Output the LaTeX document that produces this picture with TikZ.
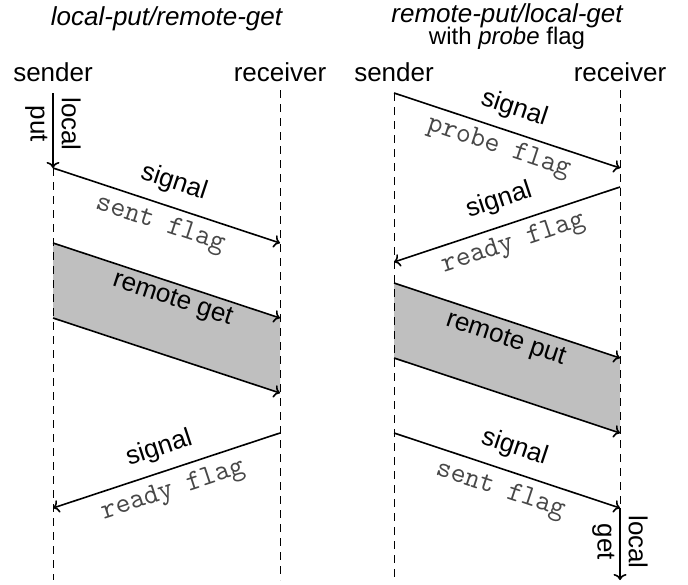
\documentclass[tikz,border=0pt]{standalone}
\usepackage{fontspec}
\setmainfont{Liberation Sans}
\setsansfont{Liberation Sans}
\usetikzlibrary{calc,arrows.meta}

\tikzset{
  lifeline/.style={dash pattern=on 4pt off 3pt, line width=0.5pt},
  msg/.style={line width=0.8pt, -{To[length=3pt,width=6.5pt]}},
  party/.style={font=\fontsize{13}{15.6}\selectfont, inner sep=0pt, anchor=base},
  heading/.style={font=\fontsize{13}{15.6}\selectfont\itshape, inner sep=0pt, anchor=base},
  subheading/.style={font=\fontsize{12}{14.4}\selectfont, inner sep=0pt, anchor=base},
  sigtext/.style={font=\fontsize{13}{15.6}\selectfont, sloped, inner sep=0pt},
  flagtext/.style={font=\fontsize{14.5}{17}\selectfont\ttfamily, text=black!72, sloped, inner sep=0pt},
  sidetext/.style={font=\fontsize{13}{15.6}\selectfont, rotate=-90, align=center, inner sep=0pt},
  block/.style={fill=black!25, draw=none},
}

\begin{document}
\begin{tikzpicture}[x=0.5pt, y=-0.5pt]
\useasboundingbox (0,0) rectangle (688,584);

% ---------- left: local-put / remote-get ----------
\node[heading] (ltitle) at (166.5,25) {local-put/remote-get};
\node[party] (lsend) at (53,81) {sender};
\node[party] (lrecv) at (280,81) {receiver};

\coordinate (LS0) at (53,93);
\coordinate (LS1) at (53,168);
\coordinate (LS2) at (53,243);
\coordinate (LS3) at (53,318);
\coordinate (LS4) at (53,508);
\coordinate (LSe) at (53,580);
\coordinate (LR0) at (280,90);
\coordinate (LR1) at (280,243);
\coordinate (LR2) at (280,318);
\coordinate (LR3) at (280,393);
\coordinate (LR4) at (280,433);
\coordinate (LRe) at (280,580);

% remote get block
\fill[block] (LS2) -- (LR2) -- (LR3) -- (LS3) -- cycle;

% lifelines
\draw[lifeline] (LS1) -- (LSe);
\draw[lifeline] (LR0) -- (LRe);

% local put
\draw[msg] (LS0) -- (LS1);
\node[sidetext] (lput) at (53,124) {local\\put};

% signal: sent flag
\draw[msg] (LS1) -- (LR1);
\path ($(LS1)!12pt!90:(LR1)$) -- ($(LR1)!12pt!-90:(LS1)$) node[midway, sigtext] (lsig1) {signal};
\path ($(LS1)!10pt!-90:(LR1)$) -- ($(LR1)!10pt!90:(LS1)$) node[midway, flagtext] (lflag1) {sent flag};

% remote get
\draw[msg] (LS2) -- (LR2);
\draw[msg] (LS3) -- (LR3);
\path ($($(LS2)!0.5!(LS3)$)!9.5pt!90:($(LR2)!0.5!(LR3)$)$) -- ($($(LR2)!0.5!(LR3)$)!9.5pt!-90:($(LS2)!0.5!(LS3)$)$)
  node[midway, sigtext] (lget) {remote get};

% signal: ready flag
\draw[msg] (LR4) -- (LS4);
\path ($(LS4)!11.5pt!90:(LR4)$) -- ($(LR4)!11.5pt!-90:(LS4)$) node[midway, sigtext] (lsig2) {signal};
\path ($(LS4)!10.5pt!-90:(LR4)$) -- ($(LR4)!10.5pt!90:(LS4)$) node[midway, flagtext] (lflag2) {ready flag};

% ---------- right: remote-put / local-get ----------
\node[heading] (rtitle) at (507,22) {remote-put/local-get};
\node[subheading] (rsub) at (507,44) {with \textit{probe} flag};
\node[party] (rsend) at (394,81) {sender};
\node[party] (rrecv) at (620,81) {receiver};

\coordinate (RS0) at (394,93);
\coordinate (RS1) at (394,262);
\coordinate (RS2) at (394,283);
\coordinate (RS3) at (394,358);
\coordinate (RS4) at (394,433);
\coordinate (RSe) at (394,580);
\coordinate (RR0) at (620,90);
\coordinate (RR1) at (620,168);
\coordinate (RR2) at (620,187);
\coordinate (RR3) at (620,358);
\coordinate (RR4) at (620,433);
\coordinate (RR5) at (620,508);
\coordinate (RRe) at (620,580);

% remote put block
\fill[block] (RS2) -- (RR3) -- (RR4) -- (RS3) -- cycle;

% lifelines
\draw[lifeline] (RS0) -- (RSe);
\draw[lifeline] (RR0) -- (RR5);

% signal: probe flag
\draw[msg] (RS0) -- (RR1);
\path ($(RS0)!11.5pt!90:(RR1)$) -- ($(RR1)!11.5pt!-90:(RS0)$) node[midway, sigtext] (rsig1) {signal};
\path ($(RS0)!9.5pt!-90:(RR1)$) -- ($(RR1)!9.5pt!90:(RS0)$) node[pos=0.49, flagtext] (rflag1) {probe flag};

% signal: ready flag
\draw[msg] (RR2) -- (RS1);
\path ($(RS1)!12.5pt!90:(RR2)$) -- ($(RR2)!12.5pt!-90:(RS1)$) node[midway, sigtext] (rsig2) {signal};
\path ($(RS1)!10pt!-90:(RR2)$) -- ($(RR2)!10pt!90:(RS1)$) node[midway, flagtext] (rflag2) {ready flag};

% remote put
\draw[msg] (RS2) -- (RR3);
\draw[msg] (RS3) -- (RR4);
\path ($($(RS2)!0.5!(RS3)$)!8.5pt!90:($(RR3)!0.5!(RR4)$)$) -- ($($(RR3)!0.5!(RR4)$)!8.5pt!-90:($(RS2)!0.5!(RS3)$)$)
  node[pos=0.47, sigtext] (rput) {remote put};

% signal: sent flag
\draw[msg] (RS4) -- (RR5);
\path ($(RS4)!12pt!90:(RR5)$) -- ($(RR5)!12pt!-90:(RS4)$) node[midway, sigtext] (rsig3) {signal};
\path ($(RS4)!10.5pt!-90:(RR5)$) -- ($(RR5)!10.5pt!90:(RS4)$) node[midway, flagtext] (rflag3) {sent flag};

% local get
\draw[msg] (RR5) -- (RRe);
\node[sidetext] (rget) at (620,542) {local\\get};
\end{tikzpicture}
\end{document}
